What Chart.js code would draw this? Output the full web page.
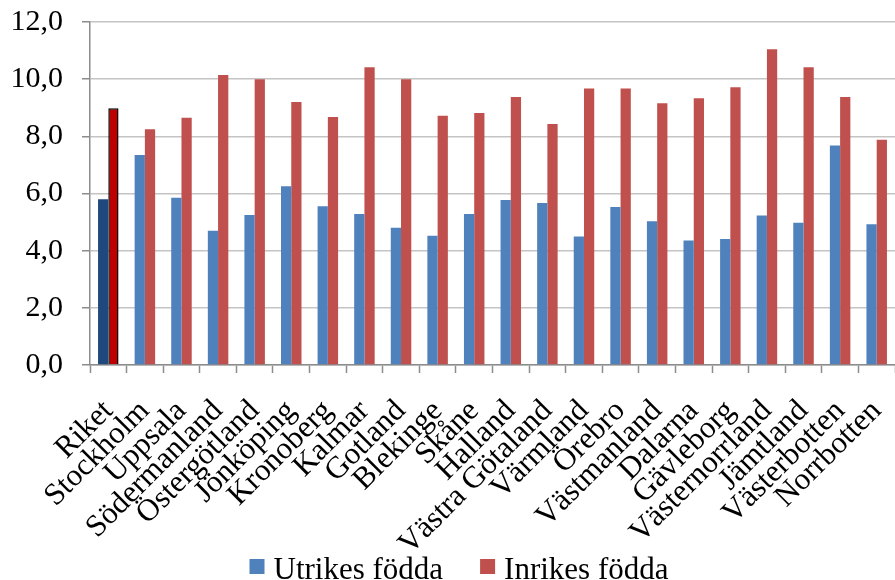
<!DOCTYPE html>
<html>
<head>
<meta charset="utf-8">
<script src="https://cdn.jsdelivr.net/npm/chart.js@4"></script>
<style>
  html, body { margin: 0; padding: 0; overflow: hidden; background: #ffffff; }
  #wrap { position: absolute; left: 0; top: 0; width: 895px; height: 580px; }
</style>
</head>
<body>
<div id="wrap"><canvas id="c"></canvas></div>
<script>
const categories = ["Riket","Stockholm","Uppsala","Södermanland","Östergötland","Jönköping","Kronoberg","Kalmar","Gotland","Blekinge","Skåne","Halland","Västra Götaland","Värmland","Örebro","Västmanland","Dalarna","Gävleborg","Västernorrland","Jämtland","Västerbotten","Norrbotten"];
const utrikesFodda = [5.8, 7.35, 5.85, 4.7, 5.25, 6.25, 5.55, 5.28, 4.8, 4.52, 5.28, 5.77, 5.67, 4.5, 5.53, 5.03, 4.36, 4.41, 5.23, 4.98, 7.68, 4.92];
const inrikesFodda = [8.98, 8.25, 8.65, 10.15, 10.0, 9.2, 8.68, 10.42, 10.0, 8.72, 8.82, 9.38, 8.43, 9.67, 9.67, 9.16, 9.33, 9.72, 11.05, 10.42, 9.38, 7.88];
const yTicks = [0, 2, 4, 6, 8, 10, 12];
const seriesNames = ['Utrikes födda', 'Inrikes födda'];
const seriesColors = ['#4F81BD', '#C0504D'];
const highlightColors = ['#1F497D', '#C00000'];

const FONT = "'Liberation Serif', 'Times New Roman', serif";

// Bottom legend drawn on the canvas (real text), partly cut by the frame like the reference
const bottomLegend = {
  id: 'bottomLegend',
  afterDraw(chart) {
    const ctx = chart.ctx;
    ctx.save();
    ctx.font = "31px " + FONT;
    ctx.textBaseline = 'alphabetic';
    ctx.textAlign = 'left';
    const box = 15, gapText = 9, gapItem = 37;
    const items = chart.data.datasets.map((d, i) => ({ text: d.label, color: seriesColors[i], w: ctx.measureText(d.label).width }));
    let total = 0;
    items.forEach((it, i) => { total += box + gapText + it.w + (i < items.length - 1 ? gapItem : 0); });
    let x = 459 - total / 2;
    const baseline = 579;
    items.forEach((it) => {
      ctx.fillStyle = it.color;
      ctx.fillRect(x, 559, box, box);
      x += box + gapText;
      ctx.fillStyle = '#000000';
      ctx.fillText(it.text, x, baseline);
      x += it.w + gapItem;
    });
    ctx.restore();
  }
};

new Chart(document.getElementById('c'), {
  type: 'bar',
  data: {
    labels: categories,
    datasets: [
      {
        label: seriesNames[0],
        data: utrikesFodda,
        backgroundColor: (ctx) => ctx.dataIndex === 0 ? highlightColors[0] : seriesColors[0],
        borderWidth: 0
      },
      {
        label: seriesNames[1],
        data: inrikesFodda,
        backgroundColor: (ctx) => ctx.dataIndex === 0 ? highlightColors[1] : seriesColors[1],
        borderColor: '#000000',
        borderWidth: (ctx) => ctx.dataIndex === 0 ? 1.5 : 0
      }
    ]
  },
  plugins: [bottomLegend],
  options: {
    responsive: true,
    maintainAspectRatio: false,
    animation: false,
    devicePixelRatio: 1,
    layout: { padding: { top: 22, left: 0, right: 0, bottom: 0 } },
    datasets: { bar: { categoryPercentage: 0.56, barPercentage: 1.0 } },
    plugins: {
      tooltip: { enabled: false },
      legend: { display: false }
    },
    scales: {
      x: {
        offset: true,
        grid: {
          display: true,
          drawOnChartArea: false,
          drawTicks: true,
          tickLength: 8,
          tickColor: '#8c8c8c',
          tickWidth: 1.5,
          offset: true
        },
        border: { display: true, color: '#8c8c8c', width: 1.5 },
        ticks: {
          autoSkip: false,
          maxRotation: 45,
          minRotation: 45,
          padding: 20,
          color: '#000000',
          font: { family: FONT, size: 31 }
        },
        afterFit: (scale) => {
          scale.height = 215;
          scale.paddingLeft = 0;
          scale.paddingRight = 0;
        }
      },
      y: {
        min: 0,
        max: 12,
        afterBuildTicks: (scale) => { scale.ticks = yTicks.map(v => ({ value: v })); },
        grid: {
          color: '#c4c4c4',
          lineWidth: 1.5,
          drawTicks: true,
          tickLength: 8,
          tickColor: '#8c8c8c',
          tickWidth: 1.5
        },
        border: { display: true, color: '#8c8c8c', width: 1.5 },
        ticks: {
          padding: 19,
          color: '#000000',
          font: { family: FONT, size: 30 },
          callback: (v) => Number(v).toFixed(1).replace('.', ',')
        },
        afterFit: (scale) => {
          scale.width = 90;
          scale.paddingTop = 0;
          scale.paddingBottom = 0;
        }
      }
    }
  }
});
</script>
</body>
</html>
